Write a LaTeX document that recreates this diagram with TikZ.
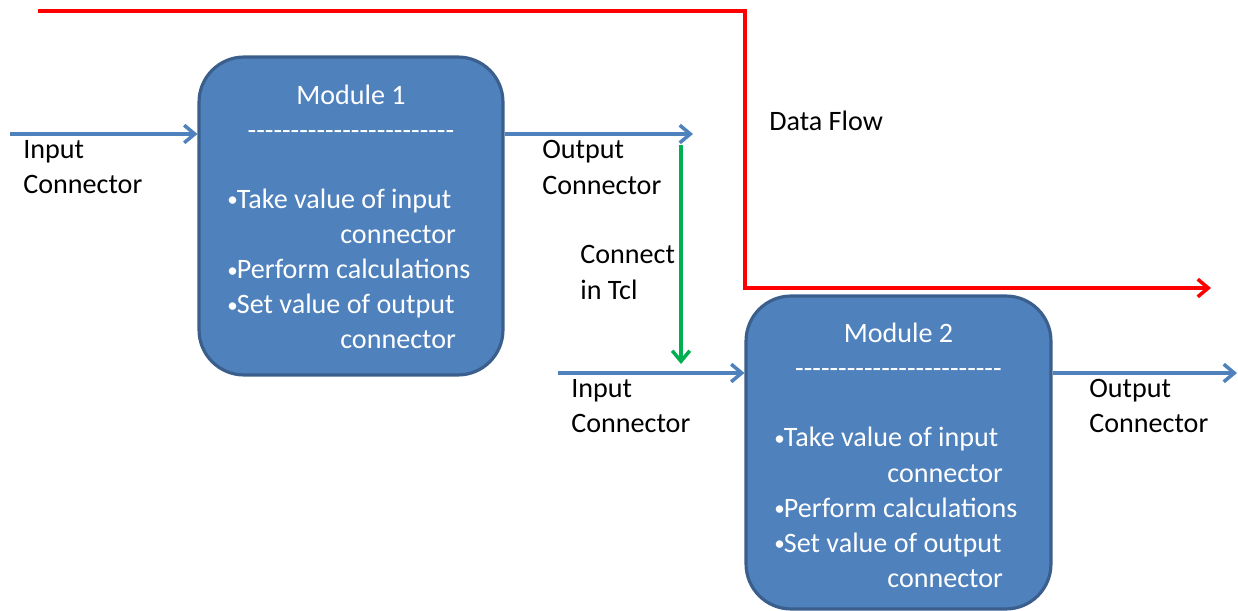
\documentclass[tikz,border=0pt]{standalone}
\usepackage{fontspec}
\newfontfamily\calibri{Carlito}
\usetikzlibrary{arrows.meta, positioning}
\definecolor{modfill}{HTML}{4F81BD}
\definecolor{modline}{HTML}{3A5F8C}
\definecolor{flowgreen}{HTML}{00B050}
\tikzstyle{module} = [draw=modline, fill=modfill, line width=1.8pt,
    rectangle, rounded corners=0.9cm]
\tikzstyle{modtext} = [text=white, inner sep=0pt, font=\calibri\fontsize{16}{20}\selectfont]
\tikzstyle{label} = [anchor=west, align=left, inner sep=0pt,
    font=\calibri\fontsize{16}{20}\selectfont]
\tikzstyle{conn} = [draw=modfill, line width=2pt,
    -{Straight Barb[length=6pt,width=10pt]}]
\newcommand{\dashline}{------------------------}
\newcommand{\bul}{\raisebox{0.8pt}{\fontsize{12}{20}\selectfont •}\kern-0.5pt}
\newcommand{\tasks}{\bul Take value of input\\ \hspace*{2.26cm}connector\\
    \bul Perform calculations\\ \bul Set value of output\\
    \hspace*{2.26cm}connector}

\begin{document}
\begin{tikzpicture}[x=0.02cm, y=-0.02cm]
    \useasboundingbox (0,0) rectangle (1238,611);
    % modules
    \node[module, minimum width=6.08cm, minimum height=6.36cm] at (351,216) (mod1) {};
    \node[module, minimum width=6.1cm, minimum height=6.26cm] at (898.5,452.5) (mod2) {};
    \node[modtext, align=center] at (351,112.5) (title1) {Module 1\\ \dashline};
    \node[modtext, align=left, anchor=west] at (227,269) (body1) {\tasks};
    \node[modtext, align=center] at (898.5,350.5) (title2) {Module 2\\ \dashline};
    \node[modtext, align=left, anchor=west] at (774,507.5) (body2) {\tasks};

    % free ends
    \coordinate (in1) at (10,134);
    \coordinate (out1) at (693,134);
    \coordinate (in2) at (558,373);
    \coordinate (out2) at (1237,373);
    \coordinate (tclA) at (681,145);
    \coordinate (tclB) at (681,364);
    \coordinate (flowA) at (38,11);
    \coordinate (flowB) at (745,11);
    \coordinate (flowC) at (745,288);
    \coordinate (flowD) at (1211,288);

    \draw[conn] (in1) -- (in1 -| mod1.west);
    \draw[conn] (out1 -| mod1.east) -- (out1);
    \draw[conn] (in2) -- (in2 -| mod2.west);
    \draw[conn] (out2 -| mod2.east) -- (out2);
    \draw[conn, draw=flowgreen] (tclA) -- (tclB);
    \draw[conn, draw=red] (flowA) -- (flowB) -- (flowC) -- (flowD);

    % labels
    \node[label] at (23,167.5) (lin1) {Input\\Connector};
    \node[label] at (542,167.5) (lout1) {Output\\Connector};
    \node[label] at (571,406) (lin2) {Input\\Connector};
    \node[label] at (1089,406) (lout2) {Output\\Connector};
    \node[label] at (580,272.5) (ltcl) {Connect\\in Tcl};
    \node[label] at (769,121) (lflow) {Data Flow};
\end{tikzpicture}
\end{document}
